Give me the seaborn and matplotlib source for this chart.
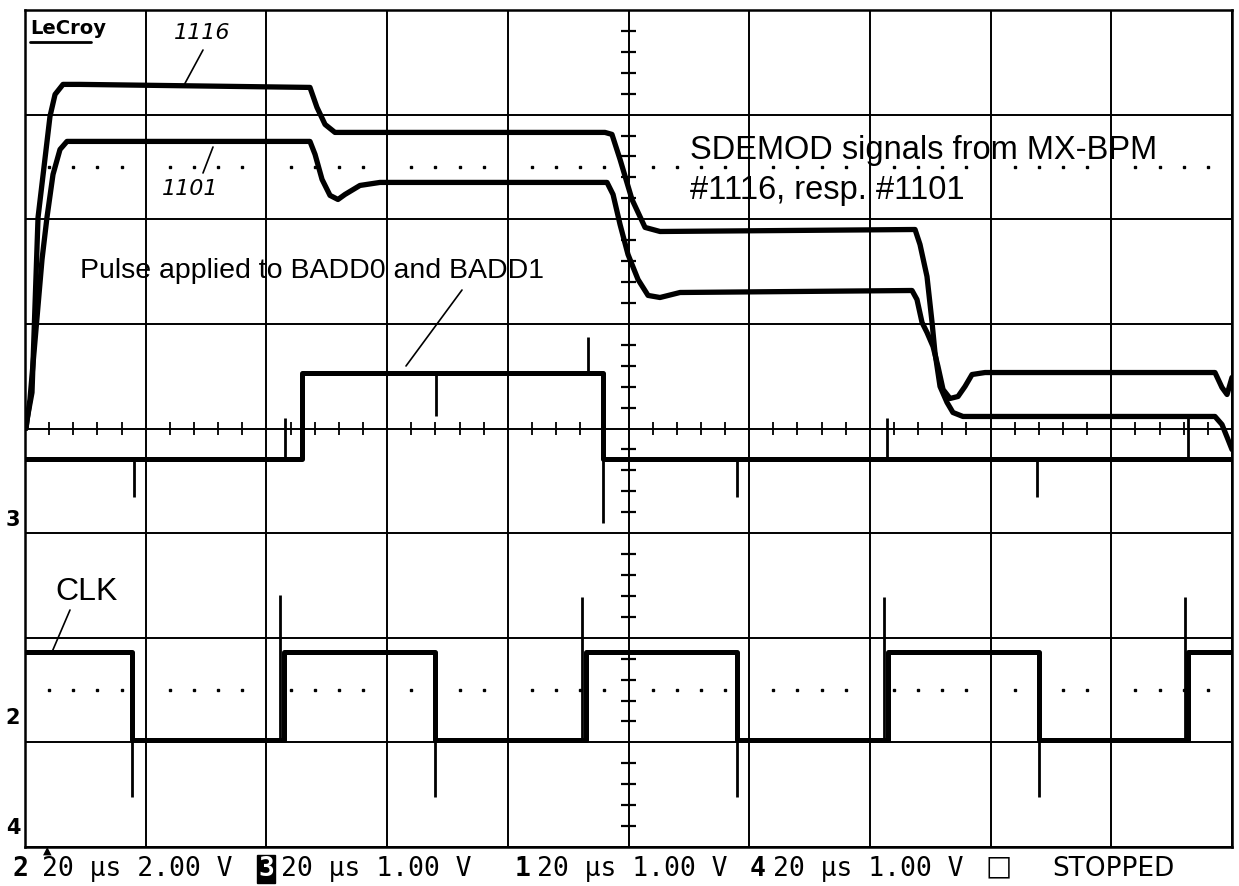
import numpy as np
import seaborn as sns
import matplotlib.pyplot as plt

# Oscilloscope screen: x in divisions (20 us/div), y in divisions
# ============================================================

# SDEMOD signal, MX-BPM #1116
t_1116 = [0.008, 0.017, 0.058, 0.108, 0.207, 0.249, 0.315, 0.456, 2.361, 2.419, 2.486,
          2.568, 4.805, 4.863, 4.930, 5.029, 5.137, 5.261, 7.374, 7.415, 7.473, 7.515,
          7.539, 7.581, 7.639, 7.688, 7.771, 9.859, 9.917, 9.967, 10.0]
v_1116 = [0.0, 0.086, 0.344, 2.017, 2.983, 3.193, 3.289, 3.289, 3.260, 3.069, 2.906,
          2.830, 2.830, 2.811, 2.572, 2.189, 1.922, 1.883, 1.902, 1.759, 1.453, 1.013,
          0.727, 0.402, 0.249, 0.153, 0.115, 0.115, 0.038, -0.105, -0.201]

# SDEMOD signal, MX-BPM #1101
t_1101 = [0.008, 0.041, 0.091, 0.141, 0.182, 0.232, 0.290, 0.348, 2.361, 2.403, 2.461,
          2.527, 2.593, 2.651, 2.775, 2.941, 4.822, 4.872, 4.930, 4.996, 5.079, 5.162,
          5.261, 5.427, 7.349, 7.390, 7.432, 7.473, 7.523, 7.564, 7.606, 7.664, 7.730,
          7.788, 7.846, 7.954, 9.859, 9.917, 9.959, 10.0]
v_1101 = [0.0, 0.277, 0.946, 1.616, 2.017, 2.428, 2.667, 2.744, 2.744, 2.620, 2.381,
          2.228, 2.189, 2.237, 2.323, 2.352, 2.352, 2.237, 1.950, 1.663, 1.424, 1.272,
          1.252, 1.300, 1.319, 1.233, 1.013, 0.918, 0.784, 0.593, 0.373, 0.287, 0.306,
          0.402, 0.516, 0.535, 0.535, 0.392, 0.325, 0.488]

# pulse on BADD0 / BADD1 (step levels)
pulse_t = [0.0, 2.295, 4.789, 10.0]
pulse_v = [-0.296, 0.535, -0.296, -0.296]
pulse_spike_t = [0.903, 2.154, 3.405, 4.664, 4.789, 5.899, 7.142, 8.384, 9.635]
pulse_spike_lo = [-0.650, -0.296, 0.115, 0.535, -0.900, -0.650, -0.296, -0.650, -0.296]
pulse_spike_hi = [-0.296, 0.096, 0.535, 0.870, -0.296, -0.296, 0.096, -0.296, 0.096]

# CLK (step levels)
clk_t = [0.0, 0.886, 2.146, 3.397, 4.648, 5.899, 7.150, 8.401, 9.635, 10.0]
clk_v = [-2.132, -2.973, -2.132, -2.973, -2.132, -2.973, -2.132, -2.973, -2.132, -2.132]
clk_spike_t = [0.886, 2.113, 3.397, 4.615, 5.899, 7.117, 8.401, 9.610]
clk_spike_lo = [-3.518, -2.973, -3.518, -2.973, -3.518, -2.973, -3.518, -2.973]
clk_spike_hi = [-2.973, -1.587, -2.973, -1.606, -2.973, -1.606, -2.973, -1.606]

status_parts = [("2", 12, True), ("20 µs 2.00 V", 42, False), ("3", 258, True),
                ("20 µs 1.00 V", 281, False), ("1", 515, True), ("20 µs 1.00 V", 537, False),
                ("4", 750, True), ("20 µs 1.00 V", 773, False)]

sns.set_style("white")
plt.rcParams['font.family'] = ['Liberation Sans', 'DejaVu Sans']
plt.rcParams['text.color'] = 'black'

W, H = 1239, 886
fig = plt.figure(figsize=(W / 100, H / 100), dpi=100)
ax = fig.add_axes([25 / W, 39 / H, 1207 / W, 837 / H])


def fx(x):
    return x / W


def fy(y):
    return 1 - y / H


# graticule
ax.set_xlim(0, 10)
ax.set_ylim(-4, 4)
ax.set_xticks(range(11))
ax.set_yticks(range(-4, 5))
ax.tick_params(length=0, labelbottom=False, labelleft=False)
ax.grid(True, color="black", lw=1.4)
for s in ax.spines.values():
    s.set_color("black")
    s.set_linewidth(1.8)

minor = np.arange(0.2, 10, 0.2)
minor = minor[np.abs(minor - np.round(minor)) > 0.01]
ax.vlines(minor, -0.065, 0.065, color="black", lw=1.3)
yminor = np.arange(-3.8, 4, 0.2)
yminor = yminor[np.abs(yminor - np.round(yminor)) > 0.01]
ax.hlines(yminor, 4.935, 5.065, color="black", lw=1.6)
ax.plot(minor, np.full(len(minor), 2.5), ls="none", marker="s", ms=1.6, color="black")
ax.plot(minor, np.full(len(minor), -2.5), ls="none", marker="s", ms=1.6, color="black")

# traces
sns.lineplot(x=t_1116, y=v_1116, ax=ax, color="black", lw=3.8, estimator=None, sort=False)
sns.lineplot(x=t_1101, y=v_1101, ax=ax, color="black", lw=3.8, estimator=None, sort=False)
sns.lineplot(x=pulse_t, y=pulse_v, ax=ax, color="black", lw=3.6, estimator=None,
             sort=False, drawstyle="steps-post")
sns.lineplot(x=clk_t, y=clk_v, ax=ax, color="black", lw=3.6, estimator=None,
             sort=False, drawstyle="steps-post")
ax.vlines(pulse_spike_t, pulse_spike_lo, pulse_spike_hi, color="black", lw=2)
ax.vlines(clk_spike_t, clk_spike_lo, clk_spike_hi, color="black", lw=2)

# annotations
fig.text(fx(30), fy(28), "LeCroy", fontsize=14, fontweight="bold",
         family="DejaVu Sans", va="center", ha="left")
fig.add_artist(plt.Line2D([fx(30), fx(91)], [fy(42), fy(42)], color="black", lw=2))

fig.text(fx(202), fy(33), "1116", fontsize=16, style="italic", family="DejaVu Sans",
         fontweight="light", ha="center", va="center")
fig.add_artist(plt.Line2D([fx(203), fx(183)], [fy(50), fy(87)], color="black", lw=1.2))
fig.text(fx(190), fy(189), "1101", fontsize=16, style="italic", family="DejaVu Sans",
         fontweight="light", ha="center", va="center")
fig.add_artist(plt.Line2D([fx(213), fx(203)], [fy(147), fy(173)], color="black", lw=1.2))

fig.text(fx(690), fy(151), "SDEMOD signals from MX-BPM", fontsize=23.5, ha="left", va="center")
fig.text(fx(690), fy(191), "#1116, resp. #1101", fontsize=23.5, ha="left", va="center")
fig.text(fx(80), fy(271), "Pulse applied to BADD0 and BADD1", fontsize=20.5, ha="left", va="center")
fig.add_artist(plt.Line2D([fx(462), fx(406)], [fy(290), fy(366)], color="black", lw=1.2))
fig.text(fx(55), fy(592), "CLK", fontsize=23, ha="left", va="center")
fig.add_artist(plt.Line2D([fx(70), fx(52)], [fy(610), fy(652)], color="black", lw=1.2))

# channel markers on the left
for lab, yy in [("3", 520), ("2", 718), ("4", 828)]:
    fig.text(fx(13), fy(yy), lab, fontsize=15, fontweight="bold", family="DejaVu Sans",
             ha="center", va="center")
fig.text(fx(47), fy(851), "▲", fontsize=8, family="DejaVu Sans", ha="center", va="center")

# status line
for txt, x0, bold in status_parts:
    kw = dict(fontsize=19, family="DejaVu Sans Mono", ha="left", va="center")
    if bold:
        kw["fontweight"] = "bold"
    if txt == "3":
        kw["color"] = "white"
        kw["bbox"] = dict(boxstyle="square,pad=0.05", fc="black", ec="black")
    fig.text(fx(x0), fy(869), txt, **kw)
fig.text(fx(985), fy(866), "□", fontsize=20, family="DejaVu Sans", ha="left", va="center")
fig.text(fx(1052), fy(869), "STOPPED", fontsize=19, family="DejaVu Sans", ha="left", va="center")

fig.savefig("out.png", dpi=100, facecolor="white")
